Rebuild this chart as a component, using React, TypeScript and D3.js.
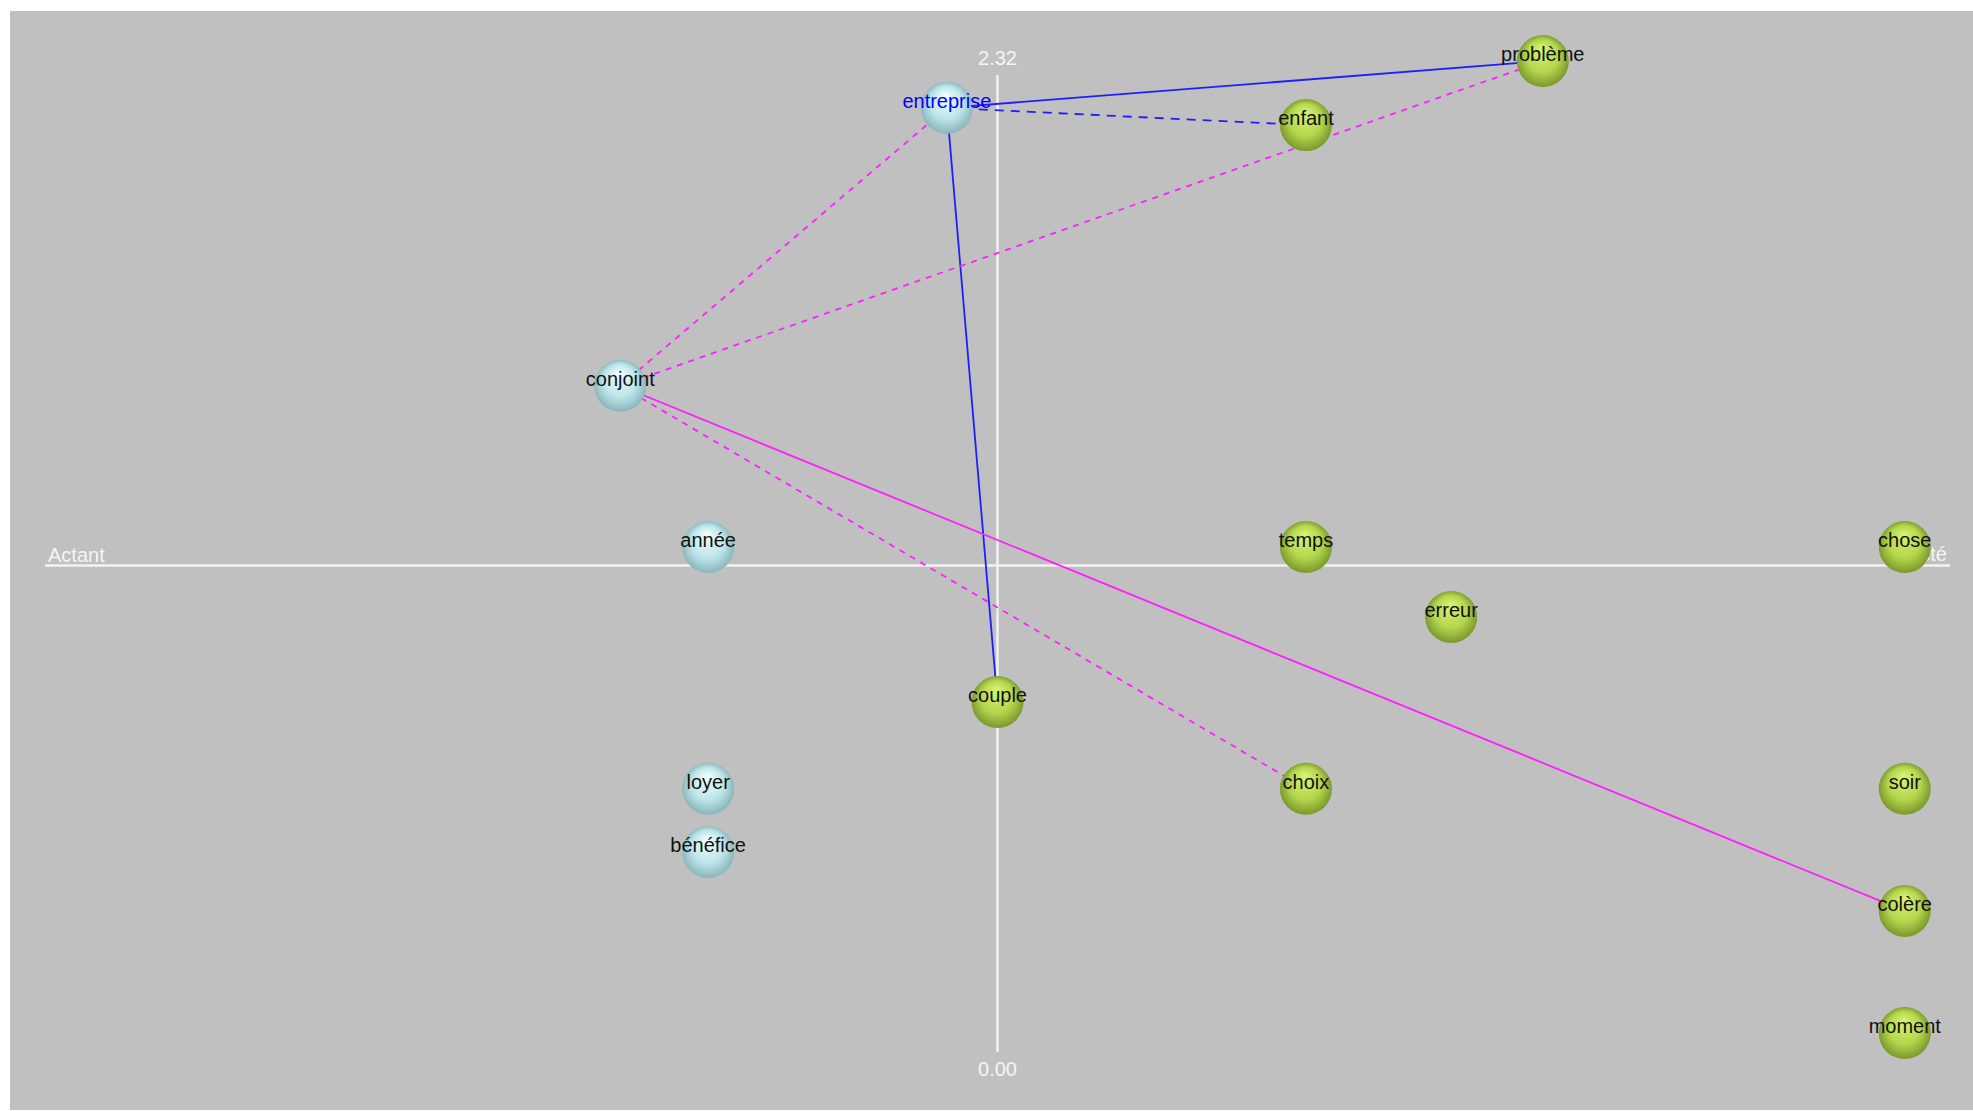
import React from "react";
import * as d3 from "d3";

// ---- data ----
const actantNames = ["entreprise", "conjoint", "année", "loyer", "bénéfice"];
const actantX = [-0.053, -0.395, -0.303, -0.303, -0.303];
const actantY = [2.242, 1.582, 1.199, 0.625, 0.475];

const acteNames = ["problème", "enfant", "temps", "chose", "erreur", "couple", "choix", "soir", "colère", "moment"];
const acteX = [0.571, 0.323, 0.323, 0.95, 0.475, 0.0, 0.323, 0.95, 0.95, 0.95];
const acteY = [2.353, 2.201, 1.199, 1.199, 1.033, 0.831, 0.625, 0.625, 0.335, 0.045];

const linkSources = ["entreprise", "entreprise", "entreprise", "conjoint", "conjoint", "conjoint", "conjoint"];
const linkTargets = ["problème", "enfant", "couple", "entreprise", "problème", "choix", "colère"];
const linkColors = ["blue", "blue", "blue", "magenta", "magenta", "magenta", "magenta"];
const linkDashed = [false, true, false, true, true, true, false];

const yTickLabels = ["0.00", "2.32"];
const yTickValues = [0, 2.32];
const axisLeftLabel = "Actant";
const axisRightLabel = "Acté";
const selected = "entreprise";

export default function App() {
  const W = 1973, H = 1111;
  const x = d3.scaleLinear().domain([-1, 1]).range([42.5, 1952.5]);
  const y = d3.scaleLinear().domain([0, 2.32]).range([1052, 75]);
  const cx = x(0);
  const axisY = y(1.16) + 2;

  const nodes = [
    ...actantNames.map((n, i) => ({ name: n, x: actantX[i], y: actantY[i], kind: "actant" })),
    ...acteNames.map((n, i) => ({ name: n, x: acteX[i], y: acteY[i], kind: "acte" })),
  ];
  const byName = new Map(nodes.map((n) => [n.name, n]));
  const r = 26;
  const font = "'Liberation Sans', Arial, sans-serif";

  return (
    <svg width={W} height={H} style={{ position: "absolute", left: 0, top: 0 }}>
      <defs>
        <radialGradient id="gCyan" cx="50%" cy="50%" r="52%" fx="48%" fy="25%">
          <stop offset="0%" stopColor="#f2ffff" />
          <stop offset="60%" stopColor="#bde6ea" />
          <stop offset="100%" stopColor="#86b2b6" />
        </radialGradient>
        <radialGradient id="gGreen" cx="50%" cy="50%" r="52%" fx="48%" fy="25%">
          <stop offset="0%" stopColor="#d8f474" />
          <stop offset="60%" stopColor="#b4d64c" />
          <stop offset="100%" stopColor="#76942a" />
        </radialGradient>
      </defs>
      <rect x={10} y={11} width={W - 10} height={H - 12} fill="#c0c0c0" />
      {/* axes */}
      <line x1={45} x2={1950} y1={axisY} y2={axisY} stroke="#f2f2f2" strokeWidth={2.5} />
      <line x1={cx} x2={cx} y1={y(2.32)} y2={y(0)} stroke="#f2f2f2" strokeWidth={2.5} />
      {yTickValues.map((v, i) => (
        <text key={i} x={cx} y={v === 0 ? y(v) + 24 : y(v) - 10} textAnchor="middle"
          fontFamily={font} fontSize={20} fill="#f5f5f5">{yTickLabels[i]}</text>
      ))}
      <text x={48} y={axisY - 4} fontFamily={font} fontSize={20} fill="#f5f5f5">{axisLeftLabel}</text>
      <text x={1947} y={axisY - 5} textAnchor="end" fontFamily={font} fontSize={20} fill="#f5f5f5">{axisRightLabel}</text>
      {/* links */}
      {linkSources.map((s, i) => {
        const a = byName.get(s)!, b = byName.get(linkTargets[i])!;
        return (
          <line key={i} x1={x(a.x)} y1={y(a.y)} x2={x(b.x)} y2={y(b.y)}
            stroke={linkColors[i] === "blue" ? "#1e1eff" : "#ff1eff"} strokeWidth={1.8}
            strokeDasharray={linkDashed[i] ? (linkColors[i] === "blue" ? "9,7" : "6,6") : undefined} />
        );
      })}
      {/* nodes */}
      {nodes.map((n) => (
        <g key={n.name}>
          <circle cx={x(n.x)} cy={y(n.y)} r={r} fill={n.kind === "actant" ? "url(#gCyan)" : "url(#gGreen)"} />
          <text x={x(n.x)} y={y(n.y)} textAnchor="middle" fontFamily={font} fontSize={20}
            fill={n.name === selected ? "#0000ff" : "#111"}>{n.name}</text>
        </g>
      ))}
    </svg>
  );
}
